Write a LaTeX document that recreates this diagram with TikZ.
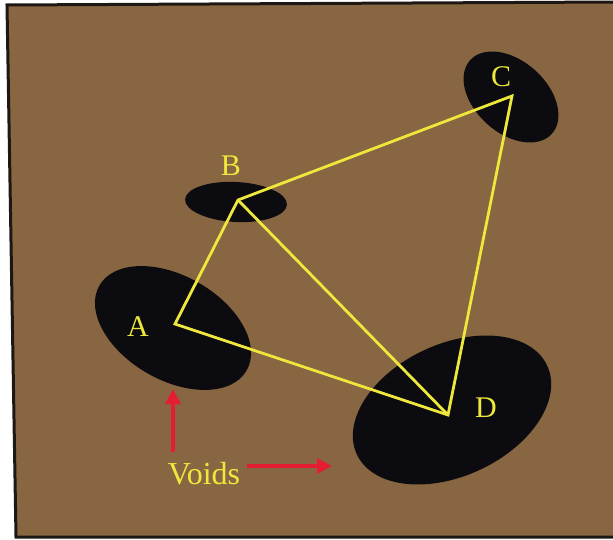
\documentclass[tikz,border=0pt]{standalone}
\usepackage{fontspec}
\setmainfont{Liberation Serif}
\usetikzlibrary{arrows.meta}
\definecolor{bgbrown}{RGB}{136,102,66}
\definecolor{voidblack}{RGB}{12,12,16}
\definecolor{lineyellow}{RGB}{238,232,60}
\definecolor{arrowred}{RGB}{228,30,48}
\definecolor{framedark}{RGB}{30,24,20}
\begin{document}
\begin{tikzpicture}[x=1pt,y=-1pt,
  void/.style={fill=voidblack},
  tri/.style={draw=lineyellow,line width=2.8pt,line join=miter},
  lbl/.style={text=lineyellow,font=\fontsize{30}{33}\selectfont,inner sep=0pt},
  redarrow/.style={draw=arrowred,line width=3.4pt,-{Triangle[length=15pt,width=15pt]}}]
\useasboundingbox (0,0) rectangle (613,540);
\fill[white] (0,0) rectangle (613,540);
\fill[bgbrown,draw=framedark,line width=3pt] (7,5) -- (616,2) -- (616,537) -- (16,537) -- cycle;
% voids
\fill[void,rotate around={-30:(173,328)}] (173,328) ellipse [x radius=85, y radius=52];
\fill[void,rotate around={-3:(236,202)}] (236,202) ellipse [x radius=51, y radius=20];
\fill[void,rotate around={-42:(511,97)}] (511,97) ellipse [x radius=55, y radius=36];
\fill[void,rotate around={25:(452,410)}] (452,410) ellipse [x radius=105, y radius=66];
% vertices
\coordinate (pa) at (175,324);
\coordinate (pb) at (238,200);
\coordinate (pc) at (512,96);
\coordinate (pd) at (448,415);
\draw[tri] (pa) -- (pb) -- (pc) -- (pd) -- cycle;
\draw[tri] (pb) -- (pd);
% labels
\node[lbl] (la) at (138,327) {A};
\node[lbl] (lb) at (231,166) {B};
\node[lbl] (lc) at (501,77) {C};
\node[lbl] (ld) at (486,408) {D};
\node[lbl,font=\fontsize{32}{35}\selectfont] (voids) at (204,474) {Voids};
% arrows
\coordinate (up0) at (173,452);
\coordinate (up1) at (173,389);
\coordinate (rt0) at (247,466);
\coordinate (rt1) at (332,466);
\draw[redarrow] (up0) -- (up1);
\draw[redarrow] (rt0) -- (rt1);
\end{tikzpicture}
\end{document}
